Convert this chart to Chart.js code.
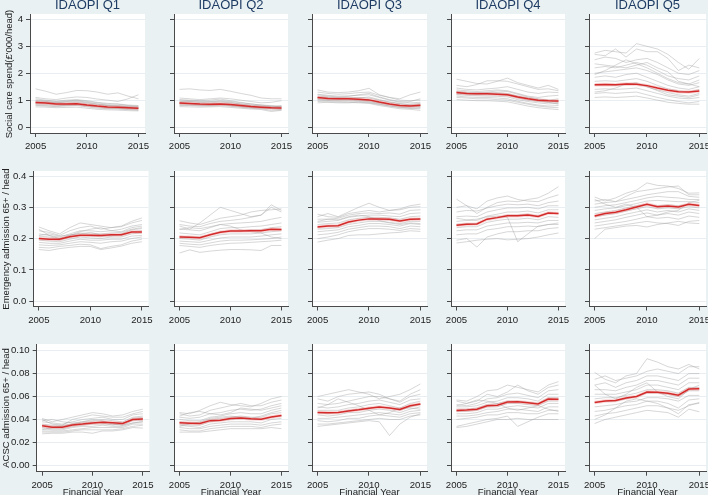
<!DOCTYPE html>
<html><head><meta charset="utf-8">
<script src="https://cdn.jsdelivr.net/npm/chart.js@4"></script>
<style>
html,body{margin:0;padding:0;}
body{background:#eaf1f3;width:708px;height:495px;overflow:hidden;position:relative;font-family:"Liberation Sans",Arial,sans-serif;}
canvas{position:absolute;}
.t{position:absolute;white-space:nowrap;}
.ct{font-size:13px;line-height:13px;color:#1e3c64;transform:translateX(-50%);}
.rt{font-size:9.5px;line-height:10px;color:#222;transform:translate(-50%,-50%) rotate(-90deg);}
.xt{font-size:9.6px;line-height:10px;color:#222;transform:translateX(-50%);}
</style></head><body>
<script>
// ---------- DATA ----------
const years = [2005,2006,2007,2008,2009,2010,2011,2012,2013,2014,2015];
const xTickYears = [2005,2010,2015];
const quintiles = ['IDAOPI Q1','IDAOPI Q2','IDAOPI Q3','IDAOPI Q4','IDAOPI Q5'];
const measureTitles = ["Social care spend(£'000/head)","Emergency admission 65+ / head","ACSC admission 65+ / head"];
const xTitle = 'Financial Year';
const spendTicks = [0,1,2,3,4];
const emergencyTicks = [0,0.1,0.2,0.3,0.4];
const acscTicks = [0,0.02,0.04,0.06,0.08,0.10];

// Social care spend (£'000/head)
const spendQ1Mean = [0.91,0.89,0.86,0.86,0.87,0.82,0.78,0.75,0.74,0.72,0.70];
const spendQ1 = [
[1.42,1.33,1.22,1.28,1.36,1.35,1.30,1.22,1.27,1.15,1.05],
[1.10,1.05,1.02,1.08,1.12,1.10,1.04,1.00,0.95,1.05,1.20],
[1.00,0.98,0.95,0.97,1.00,0.95,0.90,0.85,0.86,0.82,0.80],
[0.95,0.93,0.90,0.88,0.92,0.86,0.82,0.80,0.78,0.76,0.74],
[0.90,0.88,0.85,0.84,0.86,0.80,0.77,0.74,0.72,0.70,0.68],
[0.85,0.84,0.82,0.80,0.82,0.78,0.74,0.70,0.69,0.67,0.65],
[0.80,0.78,0.76,0.78,0.80,0.75,0.70,0.68,0.67,0.65,0.62],
[0.75,0.74,0.72,0.73,0.74,0.70,0.66,0.64,0.63,0.61,0.60],
[0.88,0.92,0.90,0.93,0.95,0.90,0.85,0.80,0.78,0.74,0.72],
[0.98,0.95,0.92,0.95,0.98,0.92,0.86,0.82,0.80,0.78,0.76],
[0.82,0.80,0.78,0.82,0.84,0.80,0.76,0.72,0.70,0.69,0.70],
[1.05,1.00,0.96,1.00,1.02,0.98,0.92,0.88,0.85,0.80,0.78]];
const spendQ2Mean = [0.89,0.88,0.86,0.85,0.86,0.84,0.80,0.76,0.74,0.72,0.71];
const spendQ2 = [
[1.40,1.42,1.38,1.36,1.40,1.33,1.25,1.18,1.08,1.05,1.05],
[1.08,1.05,1.02,1.05,1.08,1.05,1.00,0.95,0.90,0.92,0.98],
[1.00,0.98,0.96,0.95,0.98,0.95,0.90,0.86,0.82,0.80,0.78],
[0.95,0.94,0.92,0.90,0.93,0.90,0.85,0.80,0.78,0.75,0.74],
[0.90,0.88,0.86,0.86,0.88,0.85,0.81,0.77,0.75,0.72,0.70],
[0.85,0.85,0.83,0.82,0.84,0.80,0.77,0.73,0.72,0.68,0.66],
[0.80,0.80,0.78,0.78,0.80,0.77,0.73,0.70,0.68,0.62,0.64],
[0.76,0.75,0.74,0.75,0.76,0.73,0.70,0.67,0.65,0.58,0.62],
[0.92,0.95,0.93,0.94,0.96,0.92,0.86,0.82,0.78,0.76,0.75],
[1.02,1.00,0.98,1.00,1.04,0.98,0.92,0.86,0.82,0.78,0.76],
[0.82,0.82,0.80,0.80,0.83,0.80,0.76,0.72,0.70,0.72,0.80],
[0.88,0.86,0.84,0.82,0.84,0.82,0.78,0.74,0.72,0.69,0.68]];
const spendQ3Mean = [1.10,1.06,1.05,1.05,1.03,1.01,0.93,0.86,0.80,0.78,0.81];
const spendQ3 = [
[1.38,1.30,1.28,1.30,1.35,1.44,1.20,1.10,1.05,1.20,1.30],
[1.30,1.25,1.22,1.24,1.28,1.30,1.18,1.10,1.00,0.98,1.00],
[1.22,1.18,1.15,1.16,1.18,1.20,1.10,1.00,0.92,0.95,1.05],
[1.15,1.12,1.10,1.10,1.10,1.08,1.00,0.92,0.86,0.85,0.88],
[1.10,1.06,1.05,1.04,1.03,1.00,0.92,0.86,0.80,0.78,0.80],
[1.05,1.02,1.00,1.00,0.98,0.95,0.88,0.82,0.76,0.74,0.76],
[1.00,0.98,0.96,0.96,0.95,0.92,0.85,0.78,0.72,0.70,0.72],
[0.95,0.94,0.93,0.92,0.90,0.88,0.80,0.74,0.68,0.66,0.62],
[0.90,0.92,0.90,0.90,0.92,0.90,0.84,0.78,0.74,0.70,0.68],
[1.20,1.15,1.12,1.14,1.20,1.25,1.12,1.02,0.95,0.90,0.92],
[1.08,1.10,1.08,1.06,1.08,1.12,1.02,0.94,0.88,0.82,0.84],
[1.02,1.00,1.02,1.04,1.00,0.98,0.90,0.84,0.82,0.80,0.74]];
const spendQ4Mean = [1.28,1.25,1.24,1.24,1.22,1.20,1.12,1.05,1.00,0.98,0.97];
const spendQ4 = [
[1.78,1.70,1.62,1.60,1.70,1.82,1.65,1.55,1.45,1.55,1.40],
[1.55,1.50,1.58,1.72,1.72,1.70,1.60,1.50,1.40,1.42,1.35],
[1.45,1.40,1.38,1.42,1.45,1.50,1.40,1.30,1.25,1.30,1.28],
[1.38,1.35,1.32,1.35,1.38,1.35,1.25,1.15,1.10,1.15,1.18],
[1.30,1.28,1.26,1.28,1.28,1.25,1.15,1.08,1.02,1.00,1.05],
[1.25,1.22,1.20,1.20,1.20,1.18,1.08,1.00,0.95,0.92,0.95],
[1.20,1.18,1.16,1.15,1.14,1.12,1.02,0.95,0.90,0.86,0.88],
[1.15,1.12,1.10,1.10,1.08,1.05,0.96,0.88,0.82,0.78,0.80],
[1.10,1.08,1.05,1.05,1.02,1.00,0.92,0.85,0.78,0.74,0.72],
[1.02,1.00,0.98,0.98,0.96,0.94,0.86,0.78,0.72,0.68,0.65],
[1.32,1.30,1.28,1.30,1.34,1.32,1.22,1.12,1.05,1.00,0.90],
[1.22,1.25,1.22,1.24,1.25,1.22,1.14,1.06,0.98,0.92,0.85]];
const spendQ5Mean = [1.57,1.58,1.57,1.60,1.59,1.54,1.45,1.37,1.31,1.30,1.34];
const spendQ5 = [
[2.75,2.85,2.80,2.75,3.10,3.00,2.90,2.70,2.40,2.15,2.55],
[2.70,2.65,2.90,2.60,2.90,2.80,2.80,2.55,2.10,2.30,2.20],
[2.50,2.60,2.55,2.40,2.50,2.55,2.40,2.20,2.00,1.95,2.10],
[2.20,2.25,2.20,2.30,2.40,2.30,2.10,1.90,1.80,1.75,1.90],
[2.00,2.05,2.10,2.15,2.20,2.10,1.95,1.75,1.60,1.55,1.65],
[1.85,1.90,1.85,1.95,2.00,1.85,1.70,1.55,1.45,1.40,1.50],
[1.70,1.72,1.70,1.75,1.80,1.70,1.55,1.42,1.35,1.30,1.40],
[1.55,1.58,1.55,1.58,1.60,1.50,1.38,1.28,1.20,1.15,1.25],
[1.40,1.42,1.40,1.42,1.45,1.35,1.25,1.15,1.08,1.05,1.10],
[1.25,1.28,1.25,1.28,1.30,1.20,1.10,1.02,0.95,0.90,0.95],
[1.10,1.12,1.10,1.12,1.15,1.08,1.00,0.92,0.88,0.85,0.85],
[1.95,2.10,2.30,2.50,2.35,2.20,2.00,1.80,1.65,1.60,1.75],
[1.30,1.35,1.45,1.60,1.65,1.50,1.35,1.20,1.15,1.10,1.20],
[2.35,2.30,2.25,2.20,2.30,2.40,2.20,2.05,1.70,1.60,1.50]];

// Emergency admission 65+ / head
const emergencyQ1Mean = [0.200,0.198,0.198,0.206,0.211,0.211,0.210,0.212,0.212,0.221,0.221];
const emergencyQ1 = [
[0.237,0.225,0.215,0.235,0.250,0.245,0.240,0.235,0.240,0.255,0.266],
[0.225,0.220,0.210,0.225,0.235,0.240,0.230,0.235,0.238,0.250,0.258],
[0.215,0.210,0.205,0.215,0.225,0.225,0.222,0.225,0.230,0.240,0.245],
[0.208,0.205,0.200,0.210,0.218,0.215,0.215,0.218,0.220,0.230,0.235],
[0.200,0.198,0.195,0.205,0.210,0.208,0.206,0.210,0.210,0.222,0.225],
[0.195,0.192,0.190,0.198,0.205,0.202,0.200,0.205,0.205,0.215,0.218],
[0.188,0.185,0.185,0.192,0.198,0.195,0.195,0.198,0.198,0.208,0.210],
[0.180,0.178,0.180,0.185,0.190,0.188,0.185,0.190,0.192,0.200,0.205],
[0.172,0.170,0.175,0.178,0.182,0.180,0.168,0.175,0.180,0.192,0.198],
[0.165,0.162,0.168,0.172,0.175,0.175,0.165,0.170,0.176,0.185,0.190],
[0.230,0.210,0.200,0.210,0.222,0.230,0.235,0.225,0.222,0.235,0.240],
[0.210,0.215,0.208,0.212,0.215,0.220,0.212,0.208,0.215,0.228,0.232]];
const emergencyQ2Mean = [0.205,0.204,0.203,0.212,0.220,0.224,0.224,0.225,0.225,0.230,0.229];
const emergencyQ2 = [
[0.240,0.230,0.250,0.275,0.300,0.290,0.280,0.270,0.275,0.300,0.285],
[0.257,0.250,0.245,0.255,0.265,0.270,0.275,0.285,0.290,0.292,0.295],
[0.245,0.240,0.238,0.248,0.255,0.258,0.262,0.268,0.275,0.308,0.290],
[0.230,0.228,0.225,0.235,0.245,0.248,0.250,0.252,0.255,0.262,0.268],
[0.218,0.215,0.212,0.222,0.232,0.235,0.235,0.238,0.240,0.245,0.250],
[0.208,0.205,0.205,0.212,0.222,0.225,0.225,0.228,0.228,0.235,0.238],
[0.200,0.198,0.195,0.205,0.212,0.215,0.215,0.215,0.218,0.222,0.225],
[0.192,0.190,0.188,0.195,0.202,0.205,0.205,0.205,0.208,0.212,0.215],
[0.185,0.182,0.180,0.186,0.192,0.195,0.195,0.196,0.198,0.200,0.205],
[0.178,0.175,0.172,0.178,0.182,0.185,0.186,0.188,0.190,0.192,0.195],
[0.154,0.164,0.156,0.160,0.163,0.165,0.165,0.164,0.162,0.178,0.178],
[0.230,0.235,0.232,0.238,0.245,0.240,0.228,0.222,0.218,0.205,0.200]];
const emergencyQ3Mean = [0.237,0.240,0.241,0.253,0.259,0.263,0.263,0.262,0.256,0.262,0.263];
const emergencyQ3 = [
[0.270,0.280,0.270,0.285,0.300,0.313,0.300,0.290,0.295,0.305,0.310],
[0.278,0.270,0.268,0.280,0.285,0.290,0.285,0.290,0.292,0.300,0.302],
[0.262,0.262,0.265,0.275,0.280,0.282,0.280,0.282,0.278,0.290,0.292],
[0.252,0.255,0.258,0.268,0.272,0.275,0.275,0.272,0.270,0.280,0.282],
[0.245,0.248,0.250,0.260,0.265,0.268,0.268,0.266,0.262,0.270,0.272],
[0.238,0.240,0.242,0.252,0.258,0.262,0.262,0.260,0.255,0.262,0.262],
[0.230,0.232,0.235,0.245,0.250,0.255,0.255,0.252,0.248,0.255,0.255],
[0.222,0.225,0.228,0.238,0.242,0.248,0.248,0.245,0.240,0.248,0.245],
[0.212,0.215,0.220,0.230,0.235,0.240,0.240,0.238,0.232,0.240,0.238],
[0.200,0.205,0.212,0.222,0.228,0.232,0.232,0.230,0.226,0.232,0.230],
[0.189,0.195,0.200,0.210,0.212,0.212,0.215,0.218,0.220,0.225,0.223],
[0.255,0.262,0.260,0.270,0.275,0.270,0.258,0.250,0.245,0.250,0.248]];
const emergencyQ4Mean = [0.243,0.246,0.247,0.262,0.267,0.273,0.273,0.275,0.271,0.282,0.280];
const emergencyQ4 = [
[0.326,0.305,0.280,0.300,0.315,0.320,0.318,0.325,0.330,0.345,0.366],
[0.300,0.305,0.295,0.320,0.330,0.336,0.325,0.320,0.318,0.330,0.340],
[0.285,0.290,0.288,0.298,0.305,0.310,0.308,0.310,0.305,0.315,0.320],
[0.270,0.272,0.270,0.285,0.292,0.298,0.298,0.300,0.295,0.305,0.305],
[0.255,0.258,0.258,0.272,0.278,0.285,0.285,0.288,0.282,0.292,0.292],
[0.245,0.248,0.248,0.262,0.268,0.275,0.275,0.278,0.272,0.282,0.280],
[0.235,0.238,0.238,0.252,0.258,0.262,0.262,0.265,0.260,0.270,0.268],
[0.225,0.228,0.228,0.240,0.245,0.250,0.250,0.252,0.250,0.258,0.258],
[0.212,0.215,0.215,0.228,0.232,0.238,0.238,0.240,0.238,0.245,0.245],
[0.195,0.200,0.173,0.205,0.215,0.222,0.222,0.225,0.225,0.232,0.235],
[0.186,0.190,0.195,0.198,0.200,0.196,0.198,0.200,0.205,0.212,0.218],
[0.265,0.260,0.262,0.270,0.272,0.268,0.190,0.215,0.240,0.245,0.250]];
const emergencyQ5Mean = [0.272,0.280,0.284,0.292,0.301,0.310,0.302,0.304,0.301,0.310,0.306];
const emergencyQ5 = [
[0.333,0.320,0.330,0.345,0.355,0.378,0.370,0.368,0.360,0.345,0.346],
[0.320,0.325,0.318,0.335,0.350,0.355,0.360,0.365,0.368,0.340,0.340],
[0.310,0.315,0.318,0.325,0.332,0.340,0.345,0.350,0.350,0.335,0.332],
[0.300,0.305,0.308,0.315,0.322,0.330,0.335,0.332,0.330,0.325,0.325],
[0.290,0.295,0.298,0.305,0.312,0.320,0.322,0.320,0.318,0.318,0.315],
[0.280,0.285,0.290,0.298,0.305,0.310,0.305,0.308,0.305,0.310,0.305],
[0.270,0.275,0.280,0.288,0.295,0.302,0.295,0.298,0.295,0.302,0.298],
[0.260,0.265,0.270,0.278,0.285,0.292,0.285,0.290,0.285,0.295,0.290],
[0.250,0.255,0.260,0.268,0.275,0.282,0.275,0.280,0.275,0.285,0.280],
[0.240,0.245,0.250,0.255,0.262,0.270,0.265,0.268,0.262,0.272,0.268],
[0.230,0.235,0.240,0.245,0.250,0.255,0.250,0.248,0.242,0.255,0.258],
[0.200,0.230,0.235,0.240,0.242,0.237,0.245,0.250,0.255,0.250,0.248],
[0.325,0.310,0.300,0.310,0.300,0.270,0.275,0.285,0.290,0.315,0.322]];

// ACSC admission 65+ / head
const acscQ1Mean = [0.0345,0.0333,0.0333,0.0352,0.0360,0.0370,0.0376,0.0372,0.0365,0.0400,0.0405];
const acscQ1 = [
[0.041,0.038,0.040,0.042,0.044,0.046,0.045,0.043,0.044,0.047,0.049],
[0.040,0.036,0.035,0.040,0.042,0.044,0.043,0.042,0.042,0.045,0.047],
[0.038,0.037,0.036,0.038,0.040,0.041,0.042,0.040,0.040,0.044,0.045],
[0.036,0.035,0.035,0.036,0.038,0.039,0.040,0.039,0.038,0.042,0.043],
[0.035,0.034,0.034,0.035,0.036,0.037,0.038,0.037,0.037,0.040,0.041],
[0.033,0.032,0.032,0.034,0.035,0.036,0.036,0.036,0.035,0.039,0.039],
[0.032,0.031,0.031,0.033,0.034,0.034,0.035,0.034,0.034,0.037,0.038],
[0.030,0.030,0.030,0.031,0.032,0.033,0.033,0.033,0.033,0.036,0.036],
[0.029,0.029,0.029,0.030,0.031,0.031,0.031,0.031,0.032,0.034,0.035],
[0.0275,0.028,0.028,0.029,0.029,0.028,0.030,0.030,0.031,0.033,0.0325],
[0.039,0.040,0.038,0.037,0.038,0.040,0.039,0.036,0.035,0.037,0.038],
[0.031,0.033,0.034,0.036,0.037,0.038,0.037,0.035,0.036,0.041,0.042]];
const acscQ2Mean = [0.0371,0.0368,0.0365,0.0390,0.0394,0.0408,0.0412,0.0406,0.0403,0.0422,0.0435];
const acscQ2 = [
[0.046,0.045,0.048,0.052,0.055,0.053,0.052,0.051,0.054,0.058,0.060],
[0.045,0.043,0.044,0.048,0.050,0.052,0.054,0.052,0.052,0.055,0.057],
[0.042,0.041,0.042,0.045,0.046,0.048,0.049,0.048,0.049,0.052,0.054],
[0.040,0.039,0.039,0.042,0.043,0.045,0.046,0.045,0.045,0.048,0.050],
[0.038,0.037,0.037,0.040,0.041,0.042,0.043,0.042,0.042,0.045,0.046],
[0.036,0.035,0.035,0.038,0.039,0.040,0.041,0.040,0.040,0.042,0.043],
[0.035,0.034,0.033,0.036,0.037,0.038,0.038,0.038,0.037,0.040,0.041],
[0.033,0.032,0.032,0.034,0.035,0.036,0.036,0.036,0.035,0.037,0.038],
[0.031,0.030,0.030,0.032,0.033,0.034,0.034,0.034,0.033,0.035,0.036],
[0.029,0.029,0.029,0.030,0.031,0.032,0.032,0.032,0.032,0.033,0.032],
[0.043,0.046,0.047,0.045,0.044,0.046,0.050,0.049,0.048,0.050,0.052],
[0.034,0.036,0.038,0.041,0.042,0.043,0.042,0.041,0.043,0.046,0.048]];
const acscQ3Mean = [0.0461,0.0458,0.0462,0.0475,0.0485,0.0498,0.0508,0.0500,0.0487,0.0520,0.0536];
const acscQ3 = [
[0.060,0.062,0.064,0.066,0.064,0.062,0.058,0.060,0.062,0.066,0.071],
[0.058,0.056,0.060,0.062,0.063,0.064,0.062,0.058,0.056,0.062,0.066],
[0.054,0.053,0.054,0.056,0.058,0.060,0.060,0.058,0.055,0.060,0.062],
[0.051,0.050,0.051,0.053,0.054,0.056,0.057,0.055,0.053,0.057,0.058],
[0.048,0.048,0.048,0.050,0.051,0.053,0.054,0.052,0.050,0.054,0.056],
[0.046,0.045,0.046,0.048,0.049,0.050,0.051,0.050,0.048,0.051,0.053],
[0.044,0.043,0.044,0.046,0.046,0.048,0.049,0.048,0.046,0.049,0.051],
[0.041,0.041,0.042,0.043,0.044,0.045,0.046,0.045,0.044,0.047,0.048],
[0.039,0.038,0.039,0.041,0.041,0.043,0.044,0.043,0.042,0.045,0.046],
[0.036,0.036,0.037,0.038,0.039,0.040,0.041,0.040,0.040,0.043,0.044],
[0.034,0.035,0.036,0.037,0.038,0.039,0.038,0.026,0.036,0.042,0.045],
[0.050,0.053,0.058,0.055,0.052,0.048,0.044,0.046,0.050,0.050,0.049]];
const acscQ4Mean = [0.0478,0.0483,0.0490,0.0520,0.0525,0.0552,0.0554,0.0546,0.0536,0.0578,0.0577];
const acscQ4 = [
[0.057,0.056,0.060,0.065,0.066,0.070,0.068,0.066,0.064,0.070,0.073],
[0.056,0.054,0.056,0.062,0.060,0.064,0.070,0.065,0.062,0.068,0.070],
[0.053,0.052,0.054,0.058,0.059,0.062,0.063,0.061,0.059,0.065,0.066],
[0.051,0.051,0.052,0.055,0.056,0.059,0.059,0.058,0.056,0.062,0.062],
[0.049,0.049,0.050,0.053,0.054,0.056,0.056,0.055,0.054,0.059,0.059],
[0.047,0.047,0.048,0.051,0.051,0.054,0.054,0.053,0.052,0.056,0.056],
[0.045,0.045,0.046,0.049,0.049,0.051,0.052,0.051,0.050,0.054,0.054],
[0.043,0.043,0.044,0.046,0.047,0.049,0.049,0.048,0.047,0.051,0.051],
[0.040,0.041,0.042,0.044,0.044,0.046,0.046,0.045,0.045,0.048,0.048],
[0.034,0.036,0.038,0.040,0.041,0.043,0.034,0.038,0.042,0.045,0.045],
[0.033,0.034,0.036,0.038,0.040,0.040,0.041,0.040,0.040,0.040,0.040],
[0.052,0.054,0.057,0.056,0.054,0.050,0.048,0.050,0.052,0.049,0.047]];
const acscQ5Mean = [0.0548,0.0562,0.0565,0.0588,0.0600,0.0640,0.0638,0.0628,0.0612,0.0665,0.0667];
const acscQ5 = [
[0.081,0.075,0.072,0.078,0.080,0.093,0.090,0.086,0.084,0.088,0.084],
[0.075,0.078,0.074,0.076,0.078,0.082,0.084,0.082,0.080,0.086,0.086],
[0.070,0.072,0.068,0.072,0.074,0.078,0.078,0.076,0.074,0.080,0.080],
[0.066,0.066,0.065,0.068,0.070,0.074,0.074,0.072,0.070,0.076,0.076],
[0.062,0.062,0.062,0.064,0.066,0.070,0.070,0.068,0.066,0.072,0.072],
[0.058,0.059,0.059,0.061,0.063,0.066,0.066,0.065,0.063,0.068,0.068],
[0.055,0.056,0.056,0.058,0.060,0.063,0.063,0.062,0.060,0.065,0.065],
[0.051,0.052,0.053,0.055,0.056,0.059,0.059,0.058,0.056,0.061,0.061],
[0.047,0.048,0.050,0.052,0.053,0.056,0.056,0.054,0.050,0.057,0.058],
[0.043,0.045,0.046,0.048,0.050,0.052,0.052,0.050,0.045,0.053,0.054],
[0.0365,0.040,0.042,0.044,0.046,0.048,0.047,0.046,0.042,0.049,0.0467],
[0.040,0.044,0.050,0.056,0.058,0.056,0.054,0.050,0.048,0.052,0.055],
[0.070,0.062,0.058,0.062,0.068,0.072,0.064,0.060,0.058,0.066,0.070]];

// ---------- LAYOUT / STYLE ----------
const panelLines = [
  [spendQ1,spendQ2,spendQ3,spendQ4,spendQ5],
  [emergencyQ1,emergencyQ2,emergencyQ3,emergencyQ4,emergencyQ5],
  [acscQ1,acscQ2,acscQ3,acscQ4,acscQ5]];
const panelMeans = [
  [spendQ1Mean,spendQ2Mean,spendQ3Mean,spendQ4Mean,spendQ5Mean],
  [emergencyQ1Mean,emergencyQ2Mean,emergencyQ3Mean,emergencyQ4Mean,emergencyQ5Mean],
  [acscQ1Mean,acscQ2Mean,acscQ3Mean,acscQ4Mean,acscQ5Mean]];
const rowTicks = [spendTicks, emergencyTicks, acscTicks];
const rowDecimals = [0,1,2];
const rowRange = [[-0.22,4.2],[-0.017,0.416],[-0.0055,0.1058]];
const colLeft = [[30,174,312,451,589],[33.3,174,312,451,589],[36.7,174,312,451,589]];
const colRight = [[145,288,427,565,706],[148.5,288,427,565,706],[149.3,288,427,565,706]];
const rowTop = [14,171,344], rowBottom = [133,306.5,471.7];
const rowTitleX = [9.2,5.8,5.8];

const AX = '#4a4a4a', GRID = '#e8eef1', GRAY = 'rgba(160,160,160,0.42)';
const RED = '#d42a2a', PINK = 'rgba(235,130,130,0.30)';
const FONT = {family:'"Liberation Sans", Arial, sans-serif', size:9.6};

const bgPlugin = {id:'bg', beforeDraw(chart){
  const a = chart.chartArea, ctx = chart.ctx;
  ctx.save(); ctx.fillStyle = '#ffffff'; ctx.fillRect(a.left, a.top, a.right-a.left, a.bottom-a.top); ctx.restore();
}};

function addText(cls, text, left, top){
  const d = document.createElement('div');
  d.className = 't ' + cls; d.textContent = text;
  d.style.left = left + 'px'; d.style.top = top + 'px';
  document.body.appendChild(d);
}

function makePanel(r, c){
  const yW = 30, xH = 22, pT = 8, pR = 10, pB = 2;
  const L = colLeft[r][c], R = colRight[r][c];
  const W = R - L, H = rowBottom[r] - rowTop[r];
  const cv = document.createElement('canvas');
  const cx = Math.round(L - yW), cy = Math.round(rowTop[r] - pT);
  const ox = L - yW - cx, oy = rowTop[r] - pT - cy;
  cv.width = Math.round(W + yW + pR + 1); cv.height = Math.round(H + pT + xH + pB + 1);
  cv.style.left = cx + 'px'; cv.style.top = cy + 'px';
  document.body.appendChild(cv);
  const toPts = vals => years.map((x,i)=>({x:x, y:vals[i]}));
  const ds = [];
  ds.push({data: toPts(panelMeans[r][c]), borderColor: RED, borderWidth: 1.5, pointRadius: 0, order: 0});
  ds.push({data: toPts(panelMeans[r][c]), borderColor: PINK, borderWidth: 3.5, pointRadius: 0, order: 1});
  panelLines[r][c].forEach(l => ds.push({data: toPts(l), borderColor: GRAY, borderWidth: 1, pointRadius: 0, order: 2}));
  new Chart(cv, {
    type: 'line',
    data: {datasets: ds},
    options: {
      responsive: false, animation: false, events: [],
      layout: {padding: {left: ox, top: pT + oy, right: cv.width - ox - yW - W, bottom: cv.height - oy - pT - H - xH}},
      plugins: {legend: {display: false}, tooltip: {enabled: false}},
      elements: {line: {tension: 0}},
      scales: {
        x: {type: 'linear', min: 2004.46, max: 2015.64,
            afterBuildTicks: s => { s.ticks = xTickYears.map(v => ({value: v})); },
            afterFit: s => { s.height = xH; s.paddingLeft = 0; s.paddingRight = 0; },
            grid: {drawOnChartArea: false, drawTicks: true, tickLength: 4, tickColor: AX},
            border: {color: AX, width: 1},
            ticks: {font: FONT, color: '#222', padding: 4, maxRotation: 0, autoSkip: false, callback: v => String(v)}},
        y: {type: 'linear', min: rowRange[r][0], max: rowRange[r][1],
            afterBuildTicks: s => { s.ticks = rowTicks[r].map(v => ({value: v})); },
            afterFit: s => { s.width = yW; s.paddingTop = 0; s.paddingBottom = 0; },
            grid: {color: GRID, drawTicks: true, tickLength: 4, tickColor: AX},
            border: {color: AX, width: 1},
            ticks: {display: c === 0, font: FONT, color: '#222', padding: 3, autoSkip: false, callback: v => Number(v).toFixed(rowDecimals[r])}}
      }
    },
    plugins: [bgPlugin]
  });
}

for (let r = 0; r < 3; r++) for (let c = 0; c < 5; c++) makePanel(r, c);

quintiles.forEach((q, c) => addText('ct', q, (colLeft[0][c]+colRight[0][c])/2, -2));
measureTitles.forEach((t, r) => addText('rt', t, rowTitleX[r], (rowTop[r]+rowBottom[r])/2));
for (let c = 0; c < 5; c++) addText('xt', xTitle, (colLeft[2][c]+colRight[2][c])/2, 486.5);
</script>
</body></html>
